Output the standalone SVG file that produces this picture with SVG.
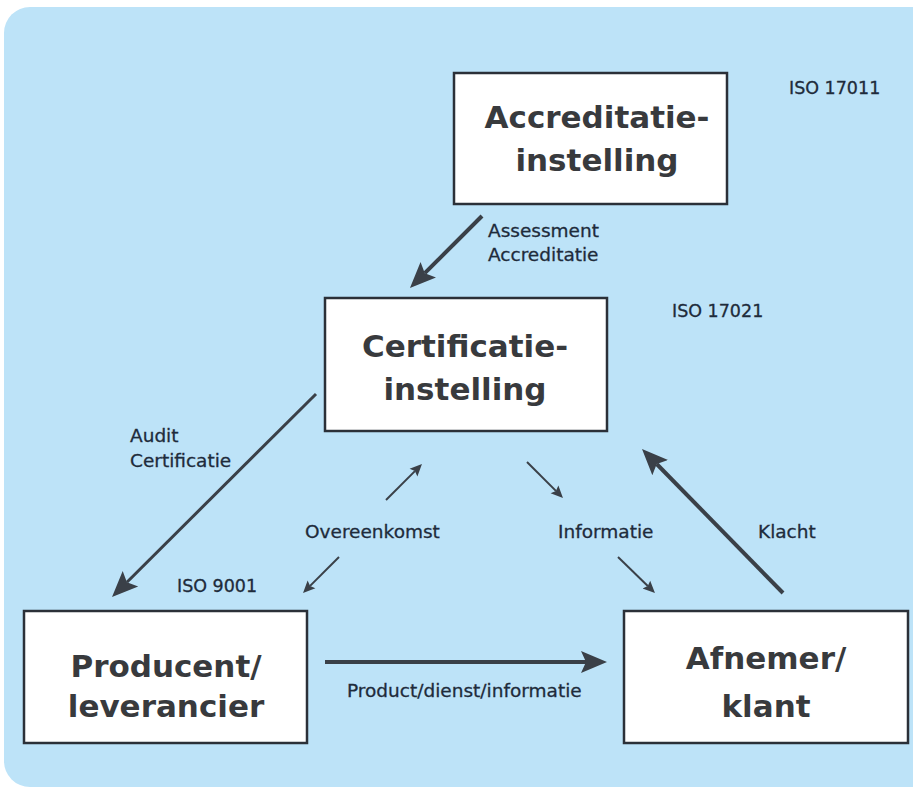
<svg xmlns="http://www.w3.org/2000/svg" width="913" height="793" viewBox="0 0 913 793">
  <style>
    .panel { fill: #bde3f8; }
    .box { fill: #ffffff; stroke: #2b3038; stroke-width: 2.5; }
    .title { font-family: "DejaVu Sans", "Liberation Sans", sans-serif; font-weight: bold; font-size: 31px; fill: #383a3d; text-anchor: middle; }
    .label { font-family: "DejaVu Sans", "Liberation Sans", sans-serif; font-size: 18.5px; fill: #1e2b3b; stroke: #1e2b3b; stroke-width: 0.3; }
    .iso { font-size: 17.5px; }
    .thick { stroke: #3a4048; stroke-width: 4; fill: none; }
    .medium { stroke: #3a4048; stroke-width: 3; fill: none; }
    .thin { stroke: #3a4048; stroke-width: 2; fill: none; }
  </style>
  <defs>
    <marker id="headBig" markerUnits="userSpaceOnUse" markerWidth="28" markerHeight="26" refX="5" refY="12" orient="auto">
      <path d="M0,1 L26,12 L0,23 L5,12 Z" fill="#3a4048"/>
    </marker>
    <marker id="headSmall" markerUnits="userSpaceOnUse" markerWidth="14" markerHeight="14" refX="2" refY="6" orient="auto">
      <path d="M0,0.5 L12,6 L0,11.5 L2,6 Z" fill="#3a4048"/>
    </marker>
  </defs>

  <!-- background panel -->
  <rect class="panel" x="4" y="7" width="935" height="780" rx="26" ry="26"/>

  <!-- nodes -->
  <g id="accreditatie">
    <rect class="box" x="454" y="73" width="273" height="131"/>
    <text class="title" x="597" y="128">Accreditatie-</text>
    <text class="title" x="597" y="171">instelling</text>
  </g>
  <g id="certificatie">
    <rect class="box" x="325" y="298" width="282" height="133"/>
    <text class="title" x="465" y="357">Certificatie-</text>
    <text class="title" x="465" y="400">instelling</text>
  </g>
  <g id="producent">
    <rect class="box" x="24" y="611" width="283" height="132"/>
    <text class="title" x="166" y="677">Producent/</text>
    <text class="title" x="166" y="717">leverancier</text>
  </g>
  <g id="afnemer">
    <rect class="box" x="624" y="611" width="284" height="132"/>
    <text class="title" x="766" y="669">Afnemer/</text>
    <text class="title" x="766" y="717">klant</text>
  </g>

  <!-- connectors -->
  <g id="connectors">
    <line class="thick" x1="482" y1="216" x2="424.8" y2="273.2" marker-end="url(#headBig)"/>
    <line class="medium" x1="316" y1="394" x2="126.9" y2="582.2" marker-end="url(#headBig)"/>
    <line class="thick" x1="783" y1="593" x2="656.7" y2="464" marker-end="url(#headBig)"/>
    <line class="thick" x1="325" y1="662" x2="586" y2="662" marker-end="url(#headBig)"/>
    <line class="thin" x1="386" y1="500" x2="414.9" y2="471.1" marker-end="url(#headSmall)"/>
    <line class="thin" x1="339" y1="557" x2="310.1" y2="585.9" marker-end="url(#headSmall)"/>
    <line class="thin" x1="527" y1="462" x2="555.9" y2="490.9" marker-end="url(#headSmall)"/>
    <line class="thin" x1="618" y1="557" x2="647.8" y2="586" marker-end="url(#headSmall)"/>
  </g>

  <!-- labels -->
  <g id="labels">
    <text class="label iso" x="789" y="94">ISO 17011</text>
    <text class="label" x="488" y="237">Assessment</text>
    <text class="label" x="488" y="261">Accreditatie</text>
    <text class="label iso" x="672" y="317">ISO 17021</text>
    <text class="label" x="130" y="442">Audit</text>
    <text class="label" x="130" y="467">Certificatie</text>
    <text class="label" x="305" y="538">Overeenkomst</text>
    <text class="label" x="558" y="538">Informatie</text>
    <text class="label" x="758" y="538">Klacht</text>
    <text class="label iso" x="177" y="592">ISO 9001</text>
    <text class="label" x="347" y="697">Product/dienst/informatie</text>
  </g>
</svg>
